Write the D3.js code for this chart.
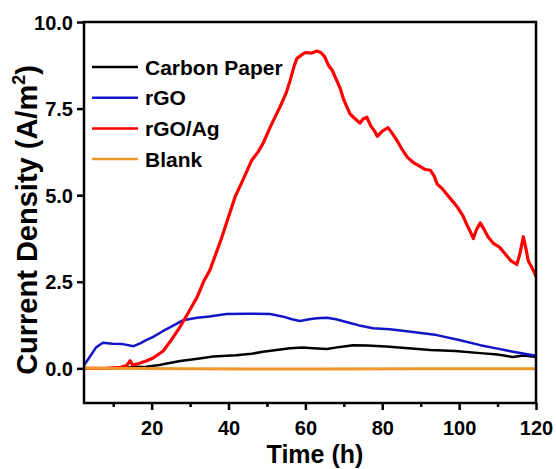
<!DOCTYPE html>
<html><head><meta charset="utf-8">
<script src="https://cdn.jsdelivr.net/npm/d3@7"></script>
<style>body{margin:0;background:#fff}svg{display:block}text{font-family:"Liberation Sans",Arial,sans-serif;font-weight:bold}</style>
</head><body><svg id="c" width="556" height="469"></svg>
<script>
const seriesNames = ["Carbon Paper","rGO","rGO/Ag","Blank"];
const seriesColors = ["#000000","#1414c8","#ff0000","#f0962a"];
const xTicks = [20,40,60,80,100,120];
const xMinorTicks = [10,30,50,70,90,110];
const yTicks = [0,2.5,5,7.5,10];

const cpT = [2.5,8,12,15,18.7,22,27.4,32,36,42,46,49,53,56,59.4,62,65.6,69,72.4,76,81,86,92.5,99,105.5,110,114,116.7,118,120];
const cpV = [0,0,0.01,0.03,0.05,0.1,0.21,0.28,0.34,0.38,0.42,0.48,0.54,0.58,0.6,0.58,0.56,0.62,0.67,0.66,0.63,0.59,0.53,0.5,0.44,0.4,0.33,0.37,0.36,0.33];

const rgoT = [2.5,4,5.5,7.3,9.9,12.5,15.3,17,18.7,20.4,23,25,28.2,31.8,35,39.5,45,50.8,54,56.5,58.6,61,63,65.6,68,71.6,74,77.6,82,88,94.2,100,105.5,110,114,117,120];
const rgoV = [0.1,0.35,0.6,0.74,0.71,0.70,0.64,0.72,0.82,0.91,1.08,1.2,1.39,1.46,1.5,1.57,1.58,1.57,1.5,1.42,1.37,1.42,1.45,1.46,1.42,1.31,1.24,1.16,1.13,1.05,0.96,0.82,0.67,0.57,0.48,0.42,0.36];

const agT = [2.5,8,12,13.5,14.4,15,16.2,18.7,20.4,23,25,27.4,29.5,31.8,33.5,35.2,38,41.7,44,46,47.7,49,51,53.4,55,56,57,57.8,59,60,61.5,63,64,65,66,67,68.2,69,70,71.6,72.5,73.5,74.2,75,76,77,78,78.7,80,81.5,82.5,84,85,86.5,88,89.5,91,92.5,93.5,94.3,95.5,97,98.5,99.5,101,102,102.9,103.7,104.5,105.5,106.3,107.5,109,110.5,112,113.5,115,115.8,116.7,117.3,118,119,120];
const agV = [0,0,0.03,0.08,0.22,0.1,0.12,0.22,0.3,0.5,0.8,1.2,1.6,2.05,2.5,2.85,3.7,4.95,5.5,6.0,6.25,6.5,7.0,7.55,7.95,8.3,8.7,8.95,9.05,9.12,9.1,9.16,9.12,9.0,8.75,8.6,8.3,8.1,7.75,7.35,7.25,7.15,7.08,7.2,7.25,7.0,6.85,6.7,6.85,6.95,6.8,6.55,6.35,6.1,5.95,5.85,5.75,5.72,5.55,5.32,5.2,5.0,4.8,4.66,4.4,4.15,3.95,3.75,4.0,4.2,4.05,3.8,3.6,3.5,3.3,3.1,3.0,3.3,3.8,3.5,3.1,2.9,2.65];

const blT = [2.5,30,60,90,120];
const blV = [0,-0.01,-0.02,-0.01,-0.01];

const svg = d3.select("#c");
const L=84,R=536,T=22,B=403;
const x = d3.scaleLinear().domain([2.4,120]).range([L,R]);
const y = d3.scaleLinear().domain([-1,10]).range([B,T]);

svg.append("clipPath").attr("id","cl").append("rect").attr("x",L).attr("y",T).attr("width",R-L).attr("height",B-T);
const series = [[cpT,cpV],[rgoT,rgoV],[agT,agV],[blT,blV]];
const widths = [2.5,2.5,3.2,3];
const line = d3.line().x(d=>x(d[0])).y(d=>y(d[1]));
const g = svg.append("g").attr("clip-path","url(#cl)");
series.forEach((s,i)=>{
  const pts = s[0].map((t,j)=>[t,s[1][j]]);
  g.append("path").attr("d",line(pts)).attr("fill","none").attr("stroke",seriesColors[i]).attr("stroke-width",widths[i]).attr("stroke-linejoin","round");
});

svg.append("rect").attr("x",L).attr("y",T).attr("width",R-L).attr("height",B-T).attr("fill","none").attr("stroke","#000").attr("stroke-width",2.5);

const xa = svg.append("g").attr("transform",`translate(0,${B})`).call(d3.axisBottom(x).tickValues(xTicks).tickSize(7).tickFormat(d3.format("d")));
const xm = svg.append("g").attr("transform",`translate(0,${B})`).call(d3.axisBottom(x).tickValues(xMinorTicks).tickSize(4).tickFormat(""));
const ya = svg.append("g").attr("transform",`translate(${L},0)`).call(d3.axisLeft(y).tickValues(yTicks).tickSize(7).tickFormat(d3.format(".1f")));
[xa,xm,ya].forEach(a=>{a.select(".domain").remove();a.selectAll("line").attr("stroke","#000").attr("stroke-width",2.5);});
xa.selectAll("text").attr("font-size",20).attr("fill","#000").attr("y",13).attr("dy","0.95em").attr("font-family","Liberation Sans, Arial").attr("font-weight","bold");
ya.selectAll("text").attr("font-size",20).attr("fill","#000").attr("dy","0.36em").attr("dx","-1").attr("font-family","Liberation Sans, Arial").attr("font-weight","bold");

svg.append("text").attr("x",315).attr("y",463).attr("text-anchor","middle").attr("font-size",25).text("Time (h)");
const yt = svg.append("text").attr("transform","translate(37,220) rotate(-90)").attr("text-anchor","middle").attr("font-size",29);
yt.append("tspan").text("Current Density (A/m");
yt.append("tspan").attr("font-size",18).attr("dy",-12).text("2");
yt.append("tspan").attr("dy",12).text(")");

seriesNames.forEach((n,i)=>{
  const yy = 67 + i*30.7;
  svg.append("line").attr("x1",92).attr("x2",138).attr("y1",yy).attr("y2",yy).attr("stroke",seriesColors[i]).attr("stroke-width",2.5);
  svg.append("text").attr("x",145).attr("y",yy).attr("dy","0.36em").attr("font-size",21).text(n);
});
</script></body></html>
